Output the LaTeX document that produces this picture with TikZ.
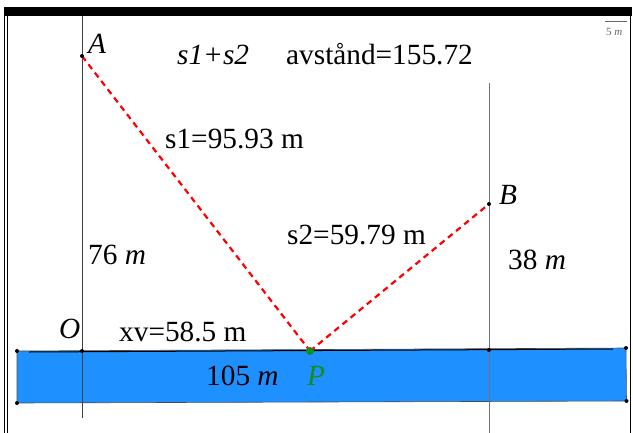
\documentclass[tikz,border=0pt]{standalone}
\usepackage{fontspec}
\setmainfont{Liberation Serif}
\definecolor{water}{RGB}{30,144,255}
\definecolor{pgreen}{RGB}{20,140,30}
\begin{document}
\begin{tikzpicture}[x=1pt,y=-1pt,
  dot/.style={circle,fill=black,inner sep=0pt,minimum size=4pt},
  lbl/.style={anchor=base west,inner sep=0pt,font=\fontsize{29.3}{32}\selectfont},
  redd/.style={red,line width=2.2pt,dash pattern=on 6pt off 4.5pt},
  guide/.style={draw=black!75,line width=0.8pt}]
\useasboundingbox (0,0) rectangle (633,432);
% frame
\draw[line width=0.8pt] (4,7) -- (4,433);
\draw[line width=0.8pt] (7,16) -- (7,433);
\draw[line width=0.8pt] (630,16) -- (630,433);
\draw[line width=0.8pt] (4,7) -- (632,7);
\fill (4,8) rectangle (632,16);
% scale bar
\draw[black!60,line width=0.6pt] (605,21) -- (627,21);
\node[anchor=base west,inner sep=0pt,font=\fontsize{11}{12}\selectfont,text=black!60] (sc) at (606,35) {5 \textit{m}};
% key points
\coordinate (A) at (82,56);
\coordinate (B) at (489,204);
\coordinate (P) at (310,351);
\coordinate (O) at (82,351);
\coordinate (Bf) at (489,350);
\coordinate (Atop) at (82,16);
\coordinate (Abot) at (82,418);
\coordinate (Btop) at (489,83);
\coordinate (Bbot) at (489,433);
\coordinate (Q1) at (17,351);
\coordinate (Q2) at (626,348);
\coordinate (Q3) at (626.5,401);
\coordinate (Q4) at (17,403);
\coordinate (W1) at (29,352);
\coordinate (W2) at (613,349);
% water
\filldraw[fill=water,draw=black!70,line width=0.6pt] (Q1) -- (Q2) -- (Q3) -- (Q4) -- cycle;
\draw[black,line width=1pt] (W1) -- (W2);
% guides
\draw[guide] (Atop) -- (Abot);
\draw[guide,draw=black!55] (Btop) -- (Bbot);
% paths
\draw[redd] (A) -- (P);
\draw[redd] (P) -- (B);
% dots
\node[dot] at (A) {};
\node[dot] at (B) {};
\node[dot] at (O) {};
\node[dot] at (Bf) {};
\node[dot] at (Q1) {};
\node[dot] at (Q2) {};
\node[dot] at (Q3) {};
\node[dot] at (Q4) {};
\node[circle,fill=pgreen,inner sep=0pt,minimum size=8pt] (Pd) at (P) {};
% labels
\node[lbl] (lA) at (88,53) {\textit{A}};
\node[lbl] (lB) at (499,204) {\textit{B}};
\node[lbl] (lO) at (59,338) {\textit{O}};
\node[lbl] (ls) at (177,64) {\textit{s1+s2}};
\node[lbl] (lav) at (286,64) {avstånd=155.72};
\node[lbl] (ls1) at (165,148) {s1=95.93 m};
\node[lbl] (ls2) at (287,244) {s2=59.79 m};
\node[lbl] (l76) at (88,264) {76 \textit{m}};
\node[lbl] (l38) at (508,269) {38 \textit{m}};
\node[lbl] (lxv) at (119,341) {xv=58.5 m};
\node[lbl] (l105) at (206,385) {105 \textit{m}};
\node[lbl,text=pgreen] (lP) at (307,385) {\textit{P}};
\end{tikzpicture}
\end{document}
